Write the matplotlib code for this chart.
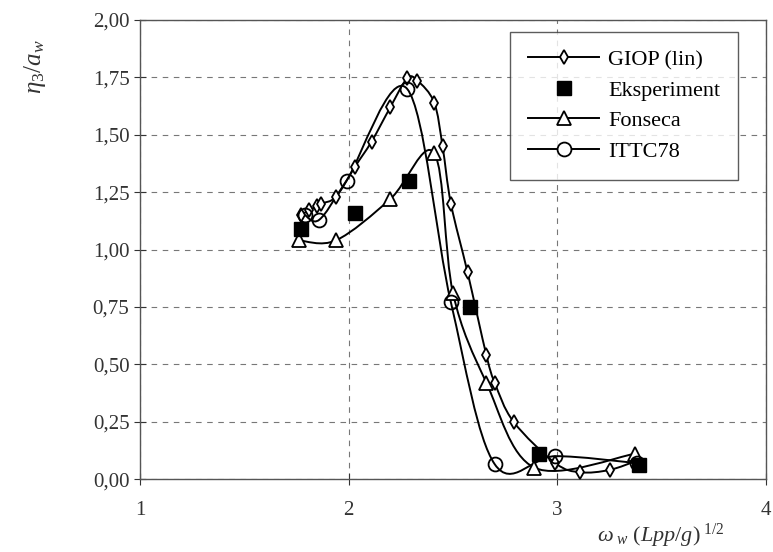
import matplotlib
matplotlib.use('Agg')
import matplotlib.pyplot as plt
from matplotlib.path import Path
from matplotlib.patches import PathPatch
from matplotlib.ticker import FuncFormatter

# data
giop_x = [1.77, 1.81, 1.85, 1.87, 1.94, 2.03, 2.11, 2.20, 2.28, 2.33, 2.41, 2.45, 2.49,
          2.57, 2.66, 2.70, 2.79, 2.99, 3.11, 3.25, 3.38]
giop_y = [1.15, 1.17, 1.19, 1.20, 1.23, 1.36, 1.47, 1.62, 1.745, 1.735, 1.64, 1.45, 1.20,
          0.90, 0.54, 0.42, 0.25, 0.07, 0.03, 0.04, 0.08]

eksp_x = [1.77, 2.03, 2.29, 2.58, 2.91, 3.39]
eksp_y = [1.09, 1.16, 1.30, 0.75, 0.11, 0.06]

fons_x = [1.76, 1.94, 2.20, 2.41, 2.50, 2.66, 2.89, 3.37]
fons_y = [1.04, 1.04, 1.22, 1.42, 0.81, 0.42, 0.05, 0.11]

ittc_x = [1.79, 1.86, 1.99, 2.28, 2.49, 2.70, 2.99, 3.38]
ittc_y = [1.15, 1.13, 1.30, 1.70, 0.77, 0.065, 0.10, 0.07]


def smooth_line(ax, xs, ys, lw=1.4):
    # Excel-like smoothed line: cubic Bezier through the points, built in display space
    pts = ax.transData.transform(list(zip(xs, ys)))
    n = len(pts)
    verts = [pts[0]]
    codes = [Path.MOVETO]
    for i in range(n - 1):
        p0 = pts[i - 1] if i > 0 else pts[i]
        p1 = pts[i]
        p2 = pts[i + 1]
        p3 = pts[i + 2] if i + 2 < n else pts[i + 1]
        c1 = p1 + (p2 - p0) / 6.0
        c2 = p2 - (p3 - p1) / 6.0
        verts += [c1, c2, p2]
        codes += [Path.CURVE4] * 3
    verts = ax.transData.inverted().transform(verts)
    ax.add_patch(PathPatch(Path(verts, codes), fill=False, lw=lw, color='black',
                           transform=ax.transData, zorder=3))


plt.rcParams['font.family'] = ['Liberation Serif', 'DejaVu Serif']
plt.rcParams['mathtext.fontset'] = 'custom'
plt.rcParams['mathtext.rm'] = 'Liberation Serif'
plt.rcParams['mathtext.it'] = 'Liberation Serif:italic'

fig = plt.figure(figsize=(7.73, 5.52), dpi=100)
ax = fig.add_axes([0.181, 0.132, 0.810, 0.832])
ax.set_xlim(1, 4)
ax.set_ylim(0, 2)

smooth_line(ax, giop_x, giop_y)
smooth_line(ax, fons_x, fons_y)
smooth_line(ax, ittc_x, ittc_y)

ax.plot(giop_x, giop_y, linestyle='none', marker='d', ms=7, mfc='white', mec='black',
        mew=1.3, zorder=4)
ax.plot(eksp_x, eksp_y, linestyle='none', marker='s', ms=10, color='black', zorder=5)
ax.plot(fons_x, fons_y, linestyle='none', marker='^', ms=10, mfc='white', mec='black',
        mew=1.3, zorder=4)
ax.plot(ittc_x, ittc_y, linestyle='none', marker='o', ms=10, mfc='none', mec='black',
        mew=1.3, zorder=4)

# legend handles
ax.plot([], [], '-', color='black', lw=1.4, marker='d', ms=7, mfc='white', mew=1.3,
        label='GIOP (lin)')
ax.plot([], [], linestyle='none', marker='s', ms=10, color='black', label='Eksperiment')
ax.plot([], [], '-', color='black', lw=1.4, marker='^', ms=10, mfc='white', mew=1.3,
        label='Fonseca')
ax.plot([], [], '-', color='black', lw=1.4, marker='o', ms=10, mfc='white', mew=1.3,
        label='ITTC78')
handles, labels = ax.get_legend_handles_labels()
leg = ax.legend(handles[-4:], labels[-4:], loc='upper right', bbox_to_anchor=(0.955, 0.974),
                borderaxespad=0, fontsize=16, frameon=True, fancybox=False,
                edgecolor='#333333', handlelength=3.2, handletextpad=0.4, borderpad=0.8,
                labelspacing=0.45)
leg.get_frame().set_linewidth(1.0)

ax.set_xticks([1, 2, 3, 4])
ax.set_yticks([i * 0.25 for i in range(9)])
ax.yaxis.set_major_formatter(FuncFormatter(lambda v, p: f'{v:.2f}'.replace('.', ',')))
ax.tick_params(direction='inout', length=8, width=0.8, labelsize=15, colors='#333333')
ax.tick_params(axis='x', pad=12)
ax.grid(True, linestyle=(0, (5, 5)), color='#777777', linewidth=0.8)
ax.set_axisbelow(True)
for s in ax.spines.values():
    s.set_color('#555555')
    s.set_linewidth(1.0)

fig.text(0.045, 0.88, r'$\eta_3/a_w$', rotation=90, fontsize=18, ha='center', va='center',
         color='#333333')
fig.text(0.855, 0.03, r'$\omega_{\ w}\ (Lpp/g)^{\ 1/2}$', fontsize=16, ha='center',
         va='center', color='#333333')

fig.savefig('out.png', dpi=100)
